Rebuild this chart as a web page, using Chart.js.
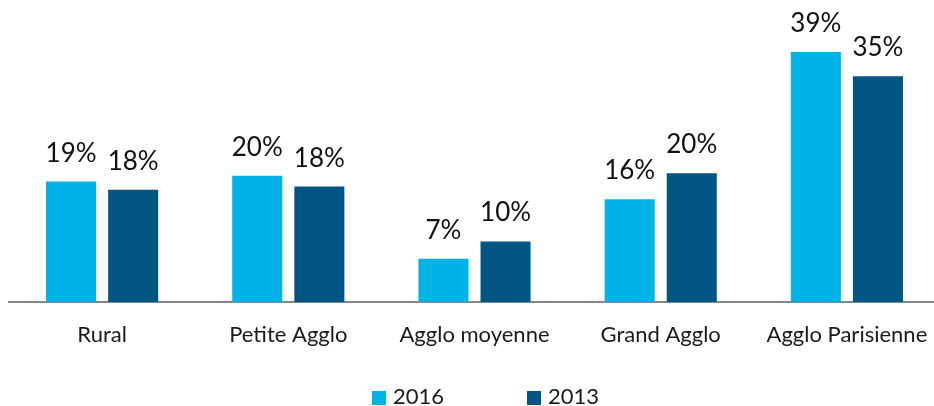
<!DOCTYPE html>
<html>
<head>
<meta charset="utf-8">
<script src="https://cdn.jsdelivr.net/npm/chart.js@4.4.0/dist/chart.umd.min.js"></script>
<style>
  html, body { margin: 0; padding: 0; background: #fff; overflow: hidden; }
  #wrap { position: relative; width: 940px; height: 406px; }
  #legend { position: absolute; top: 0; left: 0; width: 934px; height: 406px; pointer-events: none;
    font-family: Lato, sans-serif; font-size: 22px; color: #1a1a1a; }
  .sq { position: absolute; width: 14px; height: 14px; top: 391px; }
  .lt { position: absolute; top: 385px; line-height: 22px; }
</style>
</head>
<body>
<div id="wrap">
  <canvas id="barChart" width="940" height="406"></canvas>
  <div id="legend"></div>
</div>
<script>
// categories and series (percent)
const categories = ['Rural', 'Petite Agglo', 'Agglo moyenne', 'Grand Agglo', 'Agglo Parisienne'];
const series2016 = [18.9, 19.8, 6.8, 16.1, 39.2];
const series2013 = [17.6, 18.1, 9.5, 20.2, 35.4];
const seriesNames = ['2016', '2013'];
const seriesColors = ['#00b2e6', '#005683'];

// draws the value above every bar
const valueLabels = {
  id: 'valueLabels',
  afterDatasetsDraw(chart) {
    const ctx = chart.ctx;
    ctx.save();
    ctx.font = '26px Lato';
    ctx.fillStyle = '#111';
    ctx.textAlign = 'center';
    ctx.textBaseline = 'alphabetic';
    chart.data.datasets.forEach((ds, i) => {
      chart.getDatasetMeta(i).data.forEach((bar, j) => {
        ctx.fillText(Math.round(ds.data[j]) + '%', bar.x, bar.y - 20);
      });
    });
    ctx.restore();
  }
};

const myChart = new Chart(document.getElementById('barChart'), {
  type: 'bar',
  data: {
    labels: categories,
    datasets: [{
      label: seriesNames[0],
      data: series2016,
      backgroundColor: seriesColors[0],
    }, {
      label: seriesNames[1],
      data: series2013,
      backgroundColor: seriesColors[1],
    }]
  },
  options: {
    responsive: false,
    animation: false,
    categoryPercentage: 0.667,
    barPercentage: 0.806,
    layout: { padding: { left: 9, right: 0, top: 47, bottom: 38 } },
    plugins: {
      legend: { display: false },
      tooltip: { enabled: false }
    },
    scales: {
      x: {
        grid: { display: false, drawTicks: false },
        border: { display: true, color: '#878787', width: 2 },
        // taller line height pushes the labels down without narrowing the plot
        ticks: { color: '#1a1a1a', padding: 12, font: { family: 'Lato', size: 22, lineHeight: '42px' } }
      },
      y: {
        display: false,
        min: 0,
        max: 40
      }
    }
  },
  plugins: [valueLabels]
});

// legend below the chart
const legend = document.getElementById('legend');
const legendX = [372, 527];
seriesNames.forEach((name, i) => {
  const sq = document.createElement('div');
  sq.className = 'sq';
  sq.style.left = legendX[i] + 'px';
  sq.style.background = seriesColors[i];
  const t = document.createElement('div');
  t.className = 'lt';
  t.style.left = (legendX[i] + 21) + 'px';
  t.textContent = name;
  legend.appendChild(sq);
  legend.appendChild(t);
});
</script>
</body>
</html>
